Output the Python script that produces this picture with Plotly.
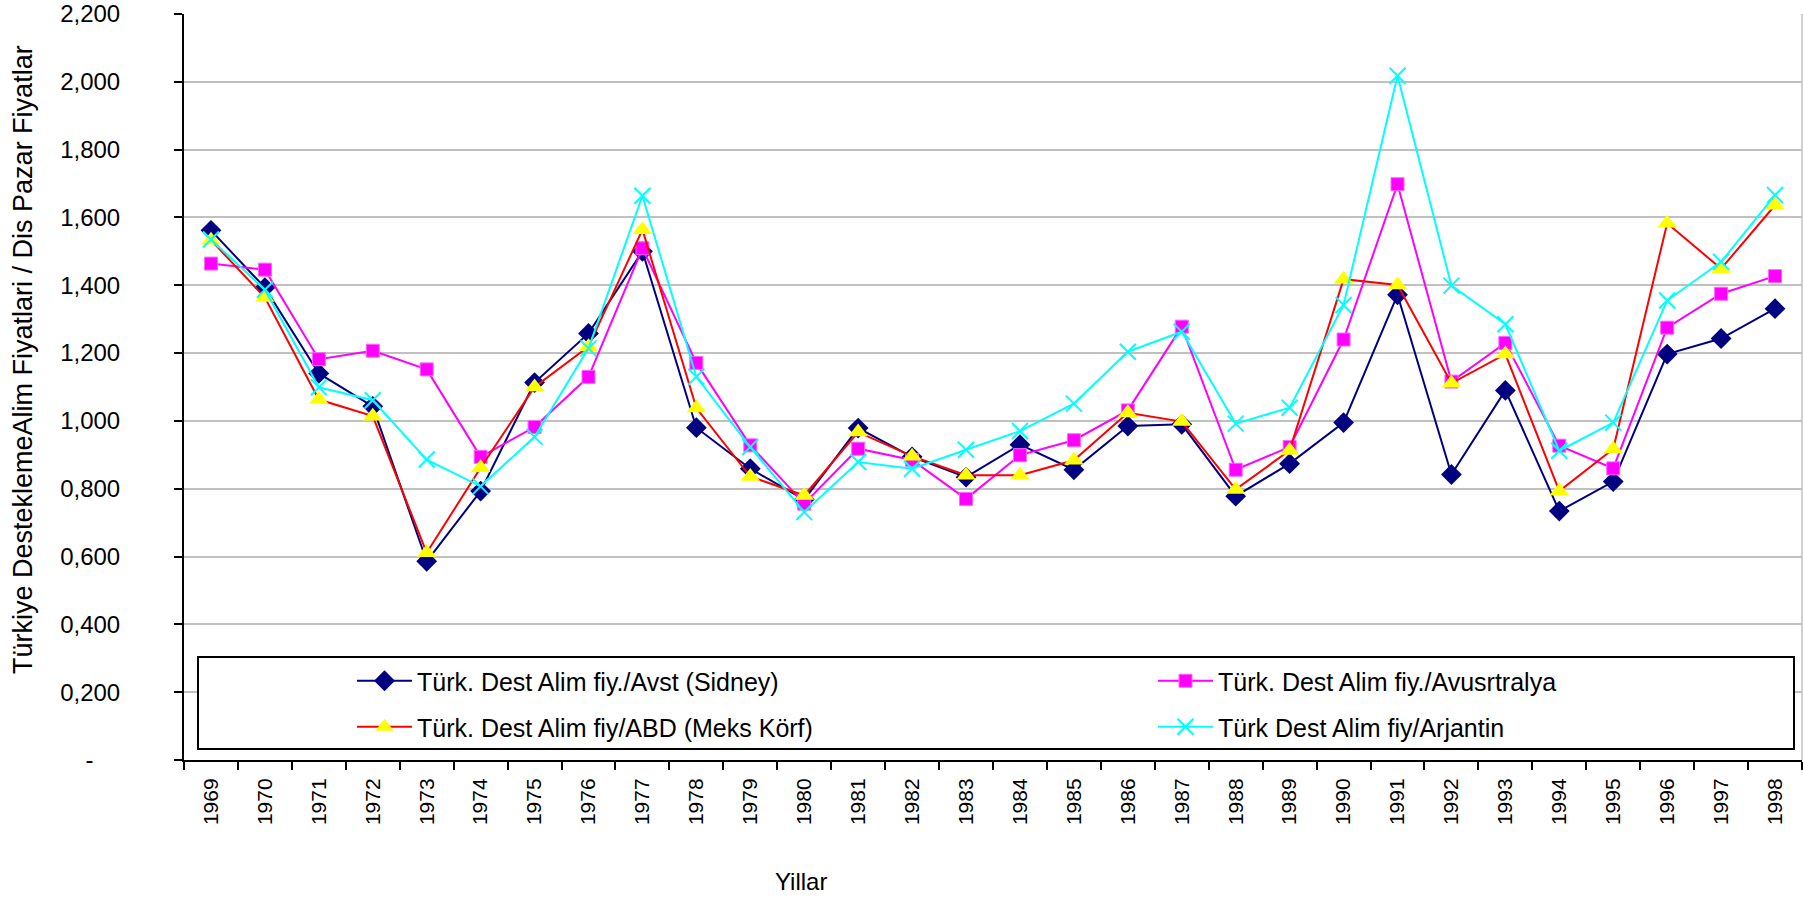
import plotly.graph_objects as go

years = [str(y) for y in range(1969, 1999)]

sidney = [1.562, 1.393, 1.140, 1.043, 0.586, 0.793, 1.113, 1.258, 1.500, 0.980,
          0.859, 0.768, 0.979, 0.894, 0.834, 0.930, 0.856, 0.985, 0.990, 0.778,
          0.874, 0.995, 1.372, 0.842, 1.090, 0.734, 0.821, 1.197, 1.243, 1.331]
avustralya = [1.464, 1.446, 1.182, 1.207, 1.152, 0.894, 0.982, 1.130, 1.509, 1.171,
              0.928, 0.756, 0.918, 0.885, 0.770, 0.899, 0.943, 1.031, 1.278, 0.856,
              0.923, 1.240, 1.698, 1.116, 1.230, 0.927, 0.860, 1.275, 1.375, 1.427]
abd = [1.533, 1.364, 1.063, 1.014, 0.611, 0.862, 1.100, 1.219, 1.564, 1.038,
       0.836, 0.780, 0.967, 0.896, 0.840, 0.840, 0.884, 1.024, 0.998, 0.798,
       0.913, 1.418, 1.401, 1.111, 1.197, 0.793, 0.917, 1.583, 1.449, 1.636]
arjantin = [1.535, 1.387, 1.099, 1.061, 0.886, 0.807, 0.953, 1.214, 1.664, 1.130,
            0.923, 0.731, 0.879, 0.859, 0.915, 0.970, 1.051, 1.204, 1.263, 0.992,
            1.039, 1.342, 2.018, 1.399, 1.285, 0.912, 0.995, 1.355, 1.469, 1.666]

names = ["Türk. Dest Alim fiy./Avst (Sidney)",
         "Türk. Dest Alim fiy./Avusrtralya",
         "Türk. Dest Alim fiy/ABD (Meks Körf)",
         "Türk Dest Alim fiy/Arjantin"]

ytickvals = [0, 0.2, 0.4, 0.6, 0.8, 1.0, 1.2, 1.4, 1.6, 1.8, 2.0, 2.2]
yticktext = ["-\u00a0\u00a0\u00a0\u00a0", "0,200", "0,400", "0,600", "0,800", "1,000",
             "1,200", "1,400", "1,600", "1,800", "2,000", "2,200"]

FONT = "Liberation Sans, Arial, sans-serif"
NARROW = "Liberation Sans Narrow, Arial Narrow, Liberation Sans, Arial, sans-serif"

# plot area in pixels: x 184..1802, y 14..760
PL, PW, PT, PH = 184, 1618, 14, 746


def px(xp):
    return (xp - PL) / PW


def py(yp):
    return (PT + PH - yp) / PH


fig = go.Figure()
fig.add_trace(go.Scatter(
    x=years, y=sidney, name=names[0], mode="lines+markers", legend="legend",
    line=dict(color="#000080", width=2),
    marker=dict(symbol="diamond", size=16, color="#000080")))
fig.add_trace(go.Scatter(
    x=years, y=avustralya, name=names[1], mode="lines+markers", legend="legend2",
    line=dict(color="#FF00FF", width=2),
    marker=dict(symbol="square", size=13, color="#FF00FF",
                line=dict(color="#FF66FF", width=1))))
fig.add_trace(go.Scatter(
    x=years, y=abd, name=names[2], mode="lines+markers", legend="legend3",
    line=dict(color="#FF0000", width=2),
    marker=dict(symbol="triangle-up", size=17, color="#FFFF00")))
fig.add_trace(go.Scatter(
    x=years, y=arjantin, name=names[3], mode="lines+markers", legend="legend4",
    line=dict(color="#00FFFF", width=2),
    marker=dict(symbol="x-thin", size=16, color="#00FFFF",
                line=dict(color="#00FFFF", width=2))))

leg_common = dict(orientation="h", xanchor="left", yanchor="middle",
                  font=dict(family=NARROW, size=25, color="black"),
                  bgcolor="rgba(0,0,0,0)", borderwidth=0, itemwidth=55)

fig.update_layout(
    width=1803, height=898,
    margin=dict(l=PL, r=1803 - PL - PW, t=PT, b=898 - PT - PH, autoexpand=False),
    paper_bgcolor="white", plot_bgcolor="white",
    font=dict(family=FONT, size=24, color="black"),
    showlegend=True,
    legend=dict(x=px(352), y=py(681), **leg_common),
    legend2=dict(x=px(1153), y=py(681), **leg_common),
    legend3=dict(x=px(352), y=py(727), **leg_common),
    legend4=dict(x=px(1153), y=py(727), **leg_common),
    xaxis=dict(type="category", range=[-0.5, 29.5], tickson="boundaries",
               ticks="outside", ticklen=8, tickwidth=2, tickcolor="black",
               showline=True, linecolor="black", linewidth=2,
               showgrid=False, tickangle=-90, ticklabelstandoff=8,
               tickfont=dict(family=NARROW, size=21, color="black")),
    yaxis=dict(range=[0, 2.2], tickvals=ytickvals, ticktext=yticktext,
               ticks="outside", ticklen=8, tickwidth=2, tickcolor="black",
               showline=True, linecolor="black", linewidth=2,
               showgrid=True, gridcolor="#C0C0C0", gridwidth=1.5,
               zeroline=False, ticklabelstandoff=49,
               tickfont=dict(family=FONT, size=24, color="black")),
    shapes=[
        dict(type="line", xref="paper", yref="paper", x0=1, x1=1, y0=0, y1=1,
             line=dict(color="#C0C0C0", width=1.5), layer="below"),
        dict(type="rect", xref="paper", yref="paper",
             x0=px(198), x1=px(1794), y0=py(749), y1=py(657),
             line=dict(color="black", width=2), fillcolor="white", layer="above"),
    ],
    annotations=[
        dict(text="Türkiye DesteklemeAlim Fiyatlari / Dis Pazar Fiyatlar",
             xref="paper", yref="paper", x=px(23), y=py(360),
             xanchor="center", yanchor="middle", textangle=-90, showarrow=False,
             font=dict(family=FONT, size=27, color="black")),
        dict(text="Yillar", xref="paper", yref="paper",
             x=px(801), y=py(881),
             xanchor="center", yanchor="middle", showarrow=False,
             font=dict(family=NARROW, size=24, color="black")),
    ],
)

fig.write_html("out.html",
               config={"displayModeBar": False},
               post_script="document.body.style.margin='0';"
                           "document.body.style.overflow='hidden';")
